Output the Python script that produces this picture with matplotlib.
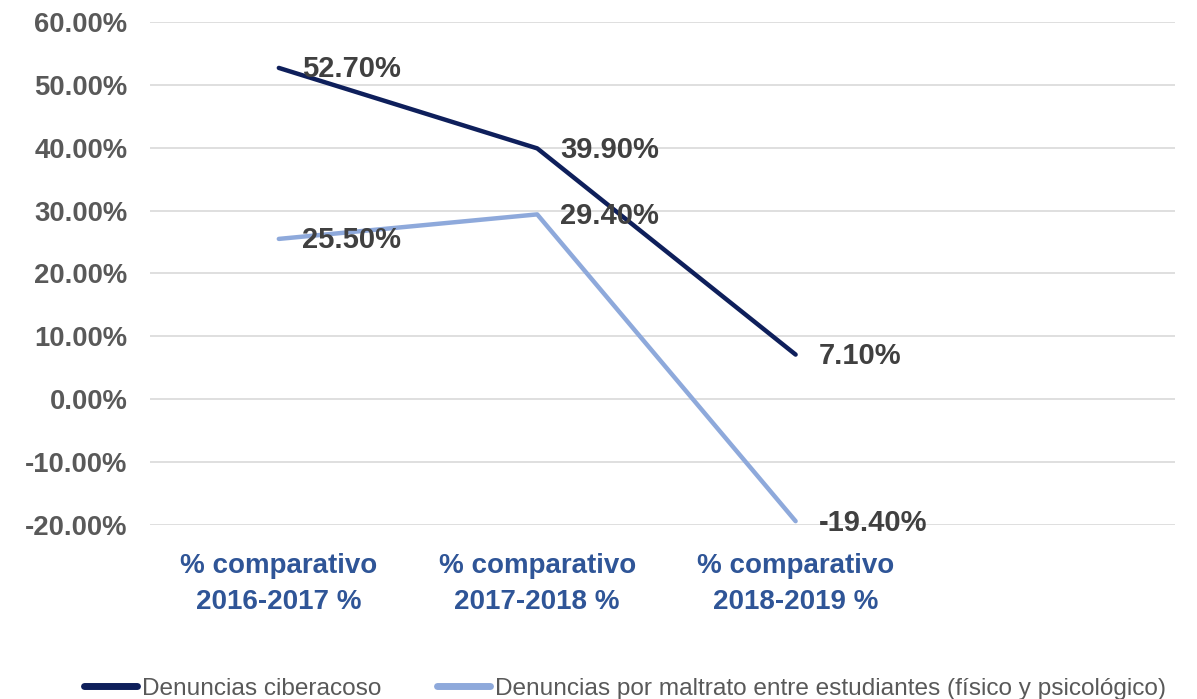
import matplotlib
matplotlib.use("Agg")
import matplotlib.pyplot as plt
from matplotlib.ticker import FuncFormatter

categories = ["% comparativo\n2016-2017 %", "% comparativo\n2017-2018 %", "% comparativo\n2018-2019 %"]
ciberacoso = [52.70, 39.90, 7.10]
maltrato = [25.50, 29.40, -19.40]
series_names = ["Denuncias ciberacoso",
                "Denuncias por maltrato entre estudiantes (físico y psicológico)"]
yticks = [-20, -10, 0, 10, 20, 30, 40, 50, 60]

dark = "#0E1F5B"
light = "#8EA9DB"

fig = plt.figure(figsize=(11.97, 6.99), dpi=100)
ax = fig.add_axes([0.125, 0.249, 0.857, 0.7195])

x = list(range(len(categories)))
l1, = ax.plot(x, ciberacoso, color=dark, lw=3.2, solid_capstyle="round", zorder=3)
l2, = ax.plot(x, maltrato, color=light, lw=3.2, solid_capstyle="round", zorder=3)

font = "Liberation Sans"
for xs, ys in [(x, ciberacoso), (x, maltrato)]:
    for xi, yi in zip(xs, ys):
        ax.annotate(f"{yi:.2f}%", (xi, yi), xytext=(16.5, -1), textcoords="offset points",
                    ha="left", va="center", fontsize=21, fontweight="bold",
                    color="#404040", family=font, zorder=4)

ax.set_xlim(-0.5, 3.47)
ax.set_ylim(-20, 60)
ax.set_yticks(yticks)
ax.yaxis.set_major_formatter(FuncFormatter(lambda v, p: f"{v:.2f}%"))
ax.set_xticks(x)
ax.set_xticklabels(categories)
for lab in ax.get_yticklabels():
    lab.set_fontsize(19.8); lab.set_fontweight("bold"); lab.set_color("#595959"); lab.set_family(font)
for lab in ax.get_xticklabels():
    lab.set_fontsize(20); lab.set_fontweight("bold"); lab.set_color("#2F5597"); lab.set_family(font)
    lab.set_linespacing(1.5)
ax.tick_params(axis="both", length=0)
ax.tick_params(axis="y", pad=16)
ax.tick_params(axis="x", pad=20)
ax.grid(axis="y", color="#D9D9D9", lw=1.2)
ax.set_axisbelow(True)
for s in ax.spines.values():
    s.set_visible(False)

leg = fig.legend([l1, l2], series_names, loc="center", bbox_to_anchor=(0.522, 0.015),
                 ncol=2, frameon=False, handlelength=2.15, handletextpad=0.2,
                 columnspacing=2.3,
                 prop={"family": font, "size": 17.6, "weight": "normal"})
for t in leg.get_texts():
    t.set_color("#595959")
for h in leg.get_lines():
    h.set_linewidth(5)

fig.savefig("out.png", dpi=100)
